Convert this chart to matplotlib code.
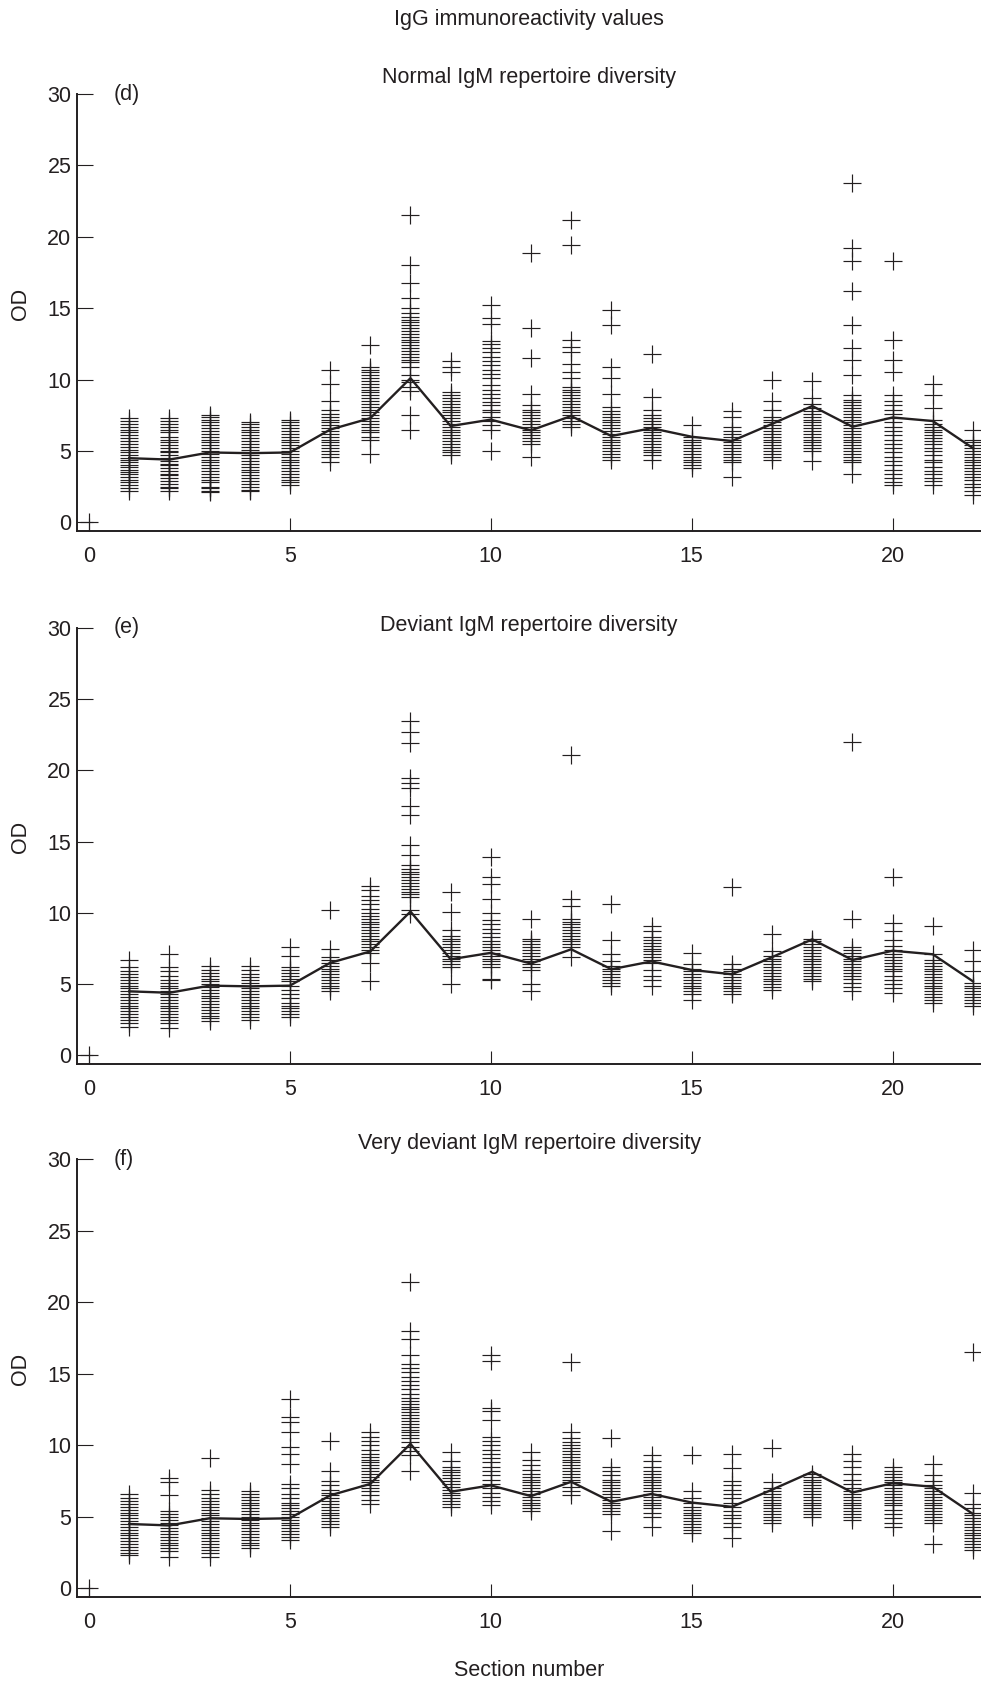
import matplotlib
matplotlib.use("Agg")
import matplotlib.pyplot as plt

# ---------------- data ----------------
sections = list(range(1, 23))

# mean line (same reference curve drawn in every panel)
mean_line = [4.5, 4.4, 4.9, 4.85, 4.9, 6.5, 7.3, 10.1, 6.75, 7.2, 6.45, 7.45,
             6.05, 6.6, 6.0, 5.7, 6.9, 8.15, 6.7, 7.35, 7.1, 5.2]

normal_od = [
    [2.2, 2.4, 2.6, 2.8, 3.0, 3.2, 3.4, 3.5, 3.7, 3.9, 4.0, 4.2, 4.4, 4.5, 4.7, 4.9, 5.1, 5.3, 5.5, 5.7, 5.9, 6.1, 6.3, 6.5, 6.7, 6.9, 7.1, 7.3],
    [2.2, 2.4, 2.5, 2.7, 2.9, 3.1, 3.3, 3.4, 3.6, 3.8, 4.0, 4.1, 4.3, 4.5, 4.7, 4.9, 5.0, 5.2, 5.4, 5.6, 5.8, 6.0, 6.3, 6.5, 6.7, 6.9, 7.1, 7.3],
    [2.1, 2.2, 2.4, 2.5, 2.8, 3.0, 3.2, 3.4, 3.6, 3.8, 4.0, 4.2, 4.4, 4.6, 4.8, 5.0, 5.2, 5.4, 5.6, 5.8, 6.0, 6.2, 6.4, 6.6, 6.8, 7.0, 7.2, 7.4, 7.5],
    [2.2, 2.3, 2.5, 2.7, 2.9, 3.1, 3.3, 3.5, 3.7, 3.9, 4.1, 4.3, 4.5, 4.7, 4.9, 5.1, 5.3, 5.5, 5.7, 5.9, 6.1, 6.3, 6.5, 6.7, 6.9, 7.0],
    [2.6, 2.8, 3.0, 3.2, 3.4, 3.6, 3.8, 4.0, 4.2, 4.4, 4.6, 4.8, 5.0, 5.2, 5.4, 5.6, 5.8, 6.0, 6.2, 6.4, 6.6, 6.8, 7.0, 7.2],
    [4.2, 4.6, 4.8, 5.0, 5.2, 5.4, 5.6, 5.8, 6.0, 6.2, 6.4, 6.6, 6.8, 7.0, 7.2, 7.4, 7.6, 7.9, 8.5, 9.7, 10.7],
    [4.8, 5.8, 6.0, 6.3, 6.5, 6.7, 6.9, 7.1, 7.3, 7.5, 7.7, 7.9, 8.1, 8.3, 8.5, 8.7, 8.9, 9.1, 9.3, 9.5, 9.7, 9.9, 10.1, 10.3, 10.5, 10.7, 10.9, 12.4],
    [6.5, 7.5, 9.2, 9.5, 9.8, 10.0, 10.3, 10.9, 11.2, 11.4, 11.6, 11.8, 12.0, 12.2, 12.4, 12.6, 12.8, 13.0, 13.2, 13.4, 13.6, 13.8, 14.0, 14.2, 14.4, 14.7, 15.0, 15.7, 16.8, 18.0, 21.5],
    [4.7, 4.9, 5.1, 5.3, 5.5, 5.7, 5.9, 6.1, 6.3, 6.5, 6.7, 6.9, 7.1, 7.3, 7.5, 7.7, 7.9, 8.1, 8.3, 8.5, 8.7, 8.9, 9.1, 10.5, 10.9, 11.3],
    [5.0, 6.5, 6.8, 7.1, 7.4, 7.7, 7.9, 8.2, 8.4, 8.7, 9.0, 9.3, 9.6, 10.1, 10.4, 10.7, 11.0, 11.3, 11.6, 11.9, 12.2, 12.5, 12.7, 13.9, 14.3, 15.2],
    [4.6, 5.5, 5.7, 5.9, 6.1, 6.3, 6.5, 6.7, 6.9, 7.1, 7.3, 7.5, 7.7, 7.9, 8.2, 9.0, 11.5, 13.6, 18.9],
    [6.7, 6.9, 7.1, 7.3, 7.5, 7.7, 7.9, 8.1, 8.3, 8.5, 8.7, 8.9, 9.1, 9.3, 9.5, 10.1, 10.5, 11.1, 11.9, 12.3, 12.8, 19.4, 21.2],
    [4.4, 4.6, 4.8, 5.0, 5.2, 5.4, 5.6, 5.8, 6.0, 6.2, 6.4, 6.6, 6.8, 7.0, 7.2, 7.4, 7.6, 7.8, 8.1, 9.0, 10.1, 10.9, 13.8, 14.9],
    [4.4, 4.7, 4.9, 5.1, 5.3, 5.5, 5.7, 5.9, 6.1, 6.3, 6.5, 6.7, 6.9, 7.1, 7.3, 7.5, 7.9, 8.8, 11.8],
    [3.8, 4.0, 4.2, 4.4, 4.6, 4.8, 5.0, 5.2, 5.4, 5.6, 5.8, 6.0, 6.8],
    [3.2, 4.2, 4.4, 4.6, 4.8, 5.0, 5.2, 5.4, 5.6, 5.8, 6.0, 6.2, 6.4, 6.7, 7.4, 7.8],
    [4.4, 4.6, 4.8, 5.0, 5.2, 5.4, 5.6, 5.8, 6.0, 6.2, 6.4, 6.6, 6.8, 7.0, 7.2, 7.4, 7.9, 8.5, 10.0],
    [4.3, 5.0, 5.2, 5.4, 5.6, 5.8, 6.0, 6.2, 6.4, 6.6, 6.8, 7.0, 7.2, 7.4, 7.6, 7.8, 8.0, 8.3, 8.7, 9.9],
    [3.4, 4.2, 4.4, 4.6, 4.8, 5.0, 5.2, 5.4, 5.6, 5.8, 6.0, 6.2, 6.4, 6.6, 6.8, 7.0, 7.2, 7.4, 7.6, 7.8, 8.0, 8.2, 8.4, 8.6, 8.9, 10.3, 11.4, 12.2, 13.8, 16.2, 18.3, 19.2, 23.8],
    [2.6, 2.8, 3.1, 3.4, 3.7, 4.0, 4.3, 4.6, 4.9, 5.2, 5.5, 5.8, 6.1, 6.4, 6.7, 7.0, 7.3, 7.6, 7.9, 8.2, 8.5, 8.9, 10.5, 11.4, 12.8, 18.3],
    [2.6, 2.9, 3.1, 3.4, 3.6, 3.9, 4.2, 4.4, 4.7, 5.0, 5.2, 5.5, 5.7, 5.9, 6.1, 6.3, 6.5, 6.7, 6.9, 7.2, 8.0, 8.9, 9.7],
    [1.9, 2.2, 2.5, 2.7, 3.0, 3.2, 3.4, 3.6, 3.8, 4.0, 4.2, 4.4, 4.6, 4.8, 5.0, 5.2, 5.4, 5.6, 5.8, 6.5],
]

deviant_od = [
    [2.0, 2.3, 2.5, 2.7, 2.9, 3.1, 3.3, 3.5, 3.7, 3.9, 4.1, 4.3, 4.5, 4.7, 4.9, 5.1, 5.3, 5.5, 5.7, 5.9, 6.2, 6.7],
    [1.9, 2.3, 2.5, 2.7, 2.9, 3.1, 3.3, 3.5, 3.7, 3.9, 4.1, 4.3, 4.5, 4.7, 4.9, 5.1, 5.3, 5.6, 5.9, 6.2, 7.1],
    [2.4, 2.6, 2.8, 3.0, 3.2, 3.4, 3.6, 3.8, 4.0, 4.2, 4.4, 4.6, 4.8, 5.0, 5.2, 5.4, 5.6, 5.8, 6.0, 6.3],
    [2.5, 2.7, 2.9, 3.1, 3.3, 3.5, 3.7, 3.9, 4.1, 4.3, 4.5, 4.7, 4.9, 5.1, 5.3, 5.5, 5.7, 6.0, 6.3],
    [2.7, 2.9, 3.1, 3.3, 3.5, 3.7, 4.0, 4.3, 4.6, 4.9, 5.2, 5.4, 5.6, 5.8, 6.0, 6.2, 7.0, 7.6],
    [4.5, 4.7, 4.9, 5.1, 5.3, 5.5, 5.7, 5.9, 6.1, 6.3, 6.5, 6.7, 6.9, 7.5, 10.2],
    [5.2, 6.5, 7.2, 7.4, 7.6, 7.8, 8.0, 8.2, 8.4, 8.6, 8.8, 9.0, 9.2, 9.4, 9.6, 9.8, 10.0, 10.3, 10.6, 10.9, 11.2, 11.6, 11.9],
    [9.9, 10.2, 11.1, 11.3, 11.5, 11.7, 11.9, 12.1, 12.3, 12.5, 12.7, 12.9, 13.1, 13.4, 14.1, 14.8, 16.9, 17.5, 18.8, 19.1, 19.5, 21.9, 22.7, 23.5],
    [5.0, 6.2, 6.4, 6.6, 6.8, 7.0, 7.2, 7.4, 7.6, 7.8, 8.0, 8.2, 8.4, 8.8, 10.1, 11.5],
    [5.3, 5.4, 6.2, 6.4, 6.6, 6.8, 7.0, 7.2, 7.4, 7.6, 7.8, 8.0, 8.3, 8.6, 8.9, 9.2, 9.5, 10.0, 11.0, 12.0, 12.5, 13.9],
    [4.5, 5.0, 6.0, 6.2, 6.4, 6.6, 6.8, 7.0, 7.2, 7.4, 7.6, 7.8, 8.0, 8.2, 9.6],
    [6.9, 7.6, 7.8, 8.0, 8.2, 8.4, 8.6, 8.8, 9.0, 9.2, 9.4, 9.6, 10.5, 11.0, 21.1],
    [4.9, 5.1, 5.3, 5.5, 5.7, 5.9, 6.1, 6.3, 6.6, 7.1, 8.1, 10.6],
    [4.9, 5.3, 5.6, 6.0, 6.5, 6.7, 6.9, 7.1, 7.3, 7.5, 7.7, 7.9, 8.1, 8.3, 8.7, 9.1],
    [3.9, 4.3, 4.5, 4.7, 4.9, 5.1, 5.3, 5.5, 5.7, 5.9, 6.1, 6.4, 7.2],
    [4.3, 4.5, 4.7, 4.9, 5.1, 5.3, 5.5, 5.7, 5.9, 6.1, 6.4, 11.8],
    [4.6, 4.8, 5.0, 5.2, 5.4, 5.6, 5.8, 6.0, 6.2, 6.4, 6.6, 6.8, 7.0, 7.3, 8.5],
    [5.2, 5.4, 5.6, 5.8, 6.0, 6.2, 6.4, 6.6, 6.8, 7.0, 7.2, 7.4, 7.6, 7.8, 8.0, 8.2],
    [4.5, 4.8, 5.1, 5.4, 5.6, 5.8, 6.0, 6.2, 6.4, 6.6, 6.8, 7.0, 7.2, 7.4, 7.6, 9.6, 22.0],
    [4.4, 4.7, 5.0, 5.3, 5.6, 5.9, 6.1, 6.3, 6.5, 6.7, 6.9, 7.1, 7.4, 7.7, 8.1, 8.7, 9.3, 12.5],
    [3.7, 3.9, 4.1, 4.3, 4.5, 4.7, 4.9, 5.1, 5.3, 5.5, 5.7, 5.9, 6.1, 6.3, 6.5, 6.7, 7.1, 9.1],
    [3.5, 3.7, 3.9, 4.1, 4.3, 4.5, 4.7, 4.9, 5.1, 5.9, 6.6, 7.4],
]

very_deviant_od = [
    [2.3, 2.5, 2.7, 2.9, 3.1, 3.3, 3.5, 3.7, 3.9, 4.1, 4.3, 4.5, 4.7, 4.9, 5.1, 5.3, 5.5, 5.7, 5.9, 6.1, 6.3, 6.6],
    [2.2, 2.6, 2.8, 3.0, 3.2, 3.4, 3.6, 3.8, 4.0, 4.2, 4.4, 4.6, 4.8, 5.0, 5.2, 5.4, 6.5, 7.4, 7.7],
    [2.2, 2.5, 2.7, 2.9, 3.1, 3.3, 3.5, 3.7, 3.9, 4.1, 4.3, 4.5, 4.7, 4.9, 5.1, 5.3, 5.5, 5.7, 5.9, 6.1, 6.3, 6.6, 6.9, 9.1],
    [2.8, 3.0, 3.2, 3.4, 3.6, 3.8, 4.0, 4.2, 4.4, 4.6, 4.8, 5.0, 5.2, 5.4, 5.6, 5.8, 6.0, 6.2, 6.4, 6.6, 6.8],
    [3.4, 3.6, 3.8, 4.0, 4.2, 4.4, 4.6, 4.8, 5.0, 5.2, 5.4, 5.6, 5.8, 6.0, 6.3, 6.6, 7.0, 7.3, 8.7, 9.4, 9.9, 10.9, 11.6, 12.0, 13.2],
    [4.3, 4.5, 4.7, 4.9, 5.1, 5.3, 5.5, 5.7, 5.9, 6.1, 6.3, 6.5, 6.7, 6.9, 7.2, 7.5, 8.2, 10.3],
    [5.9, 6.2, 6.5, 6.8, 7.0, 7.2, 7.4, 7.6, 7.8, 8.0, 8.2, 8.4, 8.6, 8.8, 9.0, 9.2, 9.4, 9.7, 10.0, 10.3, 10.6, 10.9],
    [8.2, 9.3, 9.6, 9.9, 10.2, 10.5, 10.7, 10.9, 11.1, 11.3, 11.5, 11.7, 11.9, 12.1, 12.3, 12.5, 12.7, 12.9, 13.1, 13.3, 13.6, 13.9, 14.2, 14.5, 14.8, 15.1, 15.4, 15.7, 16.3, 17.4, 18.0, 21.4],
    [5.7, 5.9, 6.1, 6.3, 6.5, 6.7, 6.9, 7.1, 7.3, 7.5, 7.7, 7.9, 8.1, 8.3, 8.5, 8.9, 9.5],
    [5.8, 6.1, 6.4, 6.7, 7.0, 7.3, 7.6, 7.9, 8.2, 8.5, 8.8, 9.1, 9.4, 9.7, 10.0, 10.3, 10.6, 11.8, 12.4, 12.6, 15.9, 16.3],
    [5.4, 5.6, 5.8, 6.0, 6.2, 6.4, 6.6, 6.8, 7.0, 7.2, 7.4, 7.6, 7.8, 8.0, 8.3, 8.6, 9.0, 9.5],
    [6.5, 6.8, 7.1, 7.4, 7.6, 7.8, 8.0, 8.2, 8.4, 8.6, 8.8, 9.0, 9.2, 9.4, 9.6, 9.8, 10.0, 10.2, 10.5, 10.9, 15.8],
    [4.0, 5.2, 5.4, 5.6, 5.8, 6.0, 6.2, 6.4, 6.6, 6.8, 7.0, 7.2, 7.4, 7.6, 7.9, 8.2, 8.5, 10.5],
    [4.3, 5.0, 5.3, 5.6, 5.8, 6.0, 6.2, 6.4, 6.6, 6.8, 7.0, 7.2, 7.4, 7.6, 7.8, 8.0, 8.2, 8.5, 8.9, 9.3],
    [3.9, 4.1, 4.3, 4.5, 4.7, 4.9, 5.1, 5.3, 5.5, 5.7, 6.0, 6.3, 6.8, 9.3],
    [3.5, 4.3, 4.6, 4.9, 5.1, 5.4, 5.7, 6.0, 6.3, 6.6, 6.9, 7.2, 7.5, 8.4, 9.4],
    [4.6, 4.8, 5.0, 5.2, 5.4, 5.6, 5.8, 6.0, 6.2, 6.4, 6.6, 6.8, 7.0, 7.4, 9.8],
    [5.0, 5.2, 5.4, 5.6, 5.8, 6.0, 6.2, 6.4, 6.6, 6.8, 7.0, 7.2, 7.4, 7.6, 7.8, 8.0],
    [4.8, 5.0, 5.2, 5.4, 5.6, 5.8, 6.0, 6.2, 6.4, 6.6, 6.8, 7.0, 7.3, 7.6, 8.0, 8.5, 8.9, 9.4],
    [4.3, 4.6, 4.9, 5.2, 5.5, 5.8, 6.0, 6.2, 6.4, 6.6, 6.8, 7.0, 7.2, 7.4, 7.6, 7.8, 8.0, 8.2, 8.5],
    [3.1, 4.6, 4.8, 5.0, 5.2, 5.4, 5.6, 5.8, 6.0, 6.2, 6.4, 6.6, 6.8, 7.0, 7.2, 7.5, 7.9, 8.7],
    [2.7, 2.9, 3.1, 3.3, 3.5, 3.7, 3.9, 4.1, 4.3, 4.5, 4.7, 4.9, 5.1, 5.3, 5.6, 5.9, 6.7, 16.5],
]

origin_point = (0, 0)

panel_letters = ["(d)", "(e)", "(f)"]
panel_titles = ["Normal IgM repertoire diversity",
                "Deviant IgM repertoire diversity",
                "Very deviant IgM repertoire diversity"]
x_ticks = [0, 5, 10, 15, 20]
y_ticks = [0, 5, 10, 15, 20, 25, 30]

# ---------------- style ----------------
INK = "#231f20"
W, H = 981, 1684
plt.rcParams["font.family"] = ["Liberation Sans", "DejaVu Sans"]
FS = 15.5
fig = plt.figure(figsize=(W / 100, H / 100), dpi=100)

# axes boxes in pixels: (top, bottom)
boxes = [(94, 531), (628, 1064), (1159, 1597)]
subtitle_y = [77, 625, 1143]
left_px, right_px = 77, 981

datasets = [normal_od, deviant_od, very_deviant_od]

for i, (top, bot) in enumerate(boxes):
    ax = fig.add_axes([left_px / W, 1 - bot / H, (right_px - left_px) / W, (bot - top) / H])
    data = datasets[i]
    xs, ys = [], []
    for s, vals in zip(sections, data):
        xs.extend([s] * len(vals))
        ys.extend(vals)
    ax.plot(xs, ys, linestyle="none", marker="+", markersize=12.5,
            markeredgewidth=0.85, color=INK, clip_on=False, zorder=2)
    ax.plot([origin_point[0]], [origin_point[1]], linestyle="none", marker="+",
            markersize=12.5, markeredgewidth=0.85, color=INK, zorder=2)
    ax.plot(sections, mean_line, color=INK, linewidth=1.7, zorder=3)

    ax.set_xlim(-0.3, 22.2)
    ax.set_ylim(-0.6, 30)
    ax.set_xticks(x_ticks)
    ax.set_yticks(y_ticks)
    for side in ("top", "right"):
        ax.spines[side].set_visible(False)
    for side in ("left", "bottom"):
        ax.spines[side].set_linewidth(1.4)
        ax.spines[side].set_color(INK)
    ax.tick_params(axis="y", direction="in", length=11.5, width=0.8, colors=INK,
                   labelsize=FS, pad=4)
    ax.tick_params(axis="x", direction="in", length=9.5, width=0.8, colors=INK,
                   labelsize=FS, pad=10.5)
    ax.set_ylabel("OD", fontsize=FS, color=INK)
    ax.yaxis.set_label_coords(-0.051, 0.52)
    ax.text(0.6, 30, panel_letters[i], ha="left", va="center", fontsize=FS, color=INK)
    fig.text((left_px + right_px) / 2 / W, 1 - subtitle_y[i] / H, panel_titles[i],
             ha="center", va="center", fontsize=FS, color=INK)

fig.text((left_px + right_px) / 2 / W, 1 - 20 / H, "IgG immunoreactivity values",
         ha="center", va="center", fontsize=FS, color=INK)
fig.text((left_px + right_px) / 2 / W, 1 - 1670 / H, "Section number",
         ha="center", va="center", fontsize=FS, color=INK)

fig.savefig("out.png", dpi=100, facecolor="white")
